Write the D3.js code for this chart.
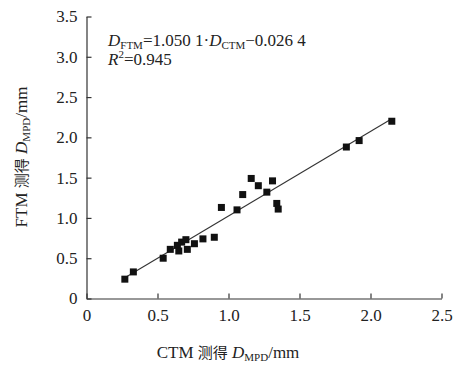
<!DOCTYPE html>
<html>
<head>
<meta charset="utf-8">
<script src="https://cdn.jsdelivr.net/npm/d3@7"></script>
<style>
body { margin: 0; background: #fff; }
text { font-family: "Liberation Serif", "Times New Roman", serif; fill: #222; }
.cjk { font-family: "Noto Sans CJK SC", sans-serif; }
.axis path, .axis line { stroke: #333; stroke-width: 1.2; }
</style>
</head>
<body>
<script>
// CTM vs FTM measured MPD (mm)
var ctm = [0.27, 0.33, 0.54, 0.59, 0.64, 0.65, 0.67, 0.70, 0.71, 0.76, 0.82, 0.90,
           0.95, 1.06, 1.10, 1.16, 1.21, 1.27, 1.31, 1.34, 1.35, 1.83, 1.92, 2.15];
var ftm = [0.24, 0.33, 0.50, 0.61, 0.66, 0.59, 0.70, 0.73, 0.61, 0.68, 0.74, 0.76,
           1.13, 1.10, 1.29, 1.49, 1.40, 1.32, 1.46, 1.18, 1.11, 1.88, 1.96, 2.20];
var xTicks = [0, 0.5, 1.0, 1.5, 2.0, 2.5];
var yTicks = [0, 0.5, 1.0, 1.5, 2.0, 2.5, 3.0, 3.5];
var slope = 1.0501, intercept = -0.0264;

var data = ctm.map(function(d, i) { return [d, ftm[i]]; });

var width = 457, height = 370;
var x = d3.scaleLinear().domain([0, 2.5]).range([86.5, 441.5]);
var y = d3.scaleLinear().domain([0, 3.5]).range([298.5, 16.5]);

var svg = d3.select('body').append('svg')
  .attr('width', width)
  .attr('height', height);

var fmt = function(d) { return d === 0 ? '0' : d3.format('.1f')(d); };

var xaxis = d3.axisBottom(x).tickValues(xTicks).tickFormat(fmt)
  .tickSizeInner(-5).tickSizeOuter(0).tickPadding(10);
svg.append('g')
  .attr('class', 'axis')
  .attr('transform', 'translate(0,' + y(0) + ')')
  .call(xaxis)
  .selectAll('text').style('font-size', '17px');

var yaxis = d3.axisLeft(y).tickValues(yTicks).tickFormat(fmt)
  .tickSizeInner(-5).tickSizeOuter(0).tickPadding(9);
svg.append('g')
  .attr('class', 'axis')
  .attr('transform', 'translate(' + x(0) + ',0)')
  .call(yaxis)
  .selectAll('text').style('font-size', '17px');

// regression line over the data range
var x0 = d3.min(ctm), x1 = d3.max(ctm);
svg.append('line')
  .attr('x1', x(x0)).attr('y1', y(slope * x0 + intercept))
  .attr('x2', x(x1)).attr('y2', y(slope * x1 + intercept))
  .attr('stroke', '#333')
  .attr('stroke-width', 1.1);

var s = 7;
svg.append('g').selectAll('rect')
  .data(data)
  .enter().append('rect')
  .attr('x', function(d) { return x(d[0]) - s / 2; })
  .attr('y', function(d) { return y(d[1]) - s / 2; })
  .attr('width', s)
  .attr('height', s)
  .attr('fill', '#111');

// equation
var eq = svg.append('text')
  .attr('x', 108).attr('y', 46)
  .style('font-size', '17px');
eq.append('tspan').style('font-style', 'italic').text('D');
eq.append('tspan').style('font-size', '11px').attr('dy', 3).text('FTM');
eq.append('tspan').attr('dy', -3).text('=1.050 1\u00b7');
eq.append('tspan').style('font-style', 'italic').text('D');
eq.append('tspan').style('font-size', '11px').attr('dy', 3).text('CTM');
eq.append('tspan').attr('dy', -3).text('\u22120.026 4');

var r2 = svg.append('text')
  .attr('x', 108).attr('y', 65)
  .style('font-size', '17px');
r2.append('tspan').style('font-style', 'italic').text('R');
r2.append('tspan').style('font-size', '11px').attr('dy', -7).text('2');
r2.append('tspan').attr('dy', 7).text('=0.945');

// axis titles
function axisTitle(sel, prefix) {
  sel.append('tspan').text(prefix + ' ');
  sel.append('tspan').attr('class', 'cjk').style('font-size', '15px').text('测得');
  sel.append('tspan').text(' ');
  sel.append('tspan').style('font-style', 'italic').text('D');
  sel.append('tspan').style('font-size', '11px').attr('dy', 3).text('MPD');
  sel.append('tspan').attr('dy', -3).text('/mm');
}

var xt = svg.append('text')
  .attr('x', 228).attr('y', 358)
  .style('text-anchor', 'middle')
  .style('font-size', '17px');
axisTitle(xt, 'CTM');

var yt = svg.append('text')
  .attr('transform', 'translate(27,157) rotate(-90)')
  .style('text-anchor', 'middle')
  .style('font-size', '17px');
axisTitle(yt, 'FTM');
</script>
</body>
</html>
